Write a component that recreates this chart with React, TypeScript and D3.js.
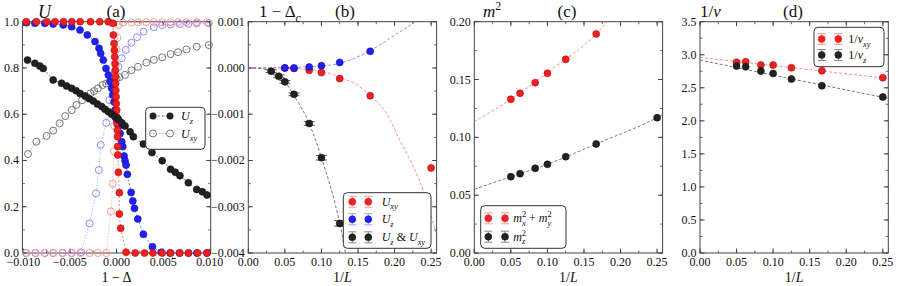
import React from "react";
import * as d3 from "d3";

const W = 915;
const H = 286;
const FONT = "Liberation Serif, DejaVu Serif, serif";
const FRAME = "#444";
const TOP = 21.7;
const BOTTOM = 253;
const PW = 188.3;
const LEFTS = [22.4, 248.3, 474.3, 700];

// ---- panel (a): U versus 1 - Delta ----
const aBlkX = [-0.00955, -0.00876, -0.00823, -0.00787, -0.0068, -0.0059, -0.00536, -0.00482, -0.00435, -0.00392, -0.00339, -0.00292, -0.00249, -0.00206, -0.00159, -0.00124, -0.00088, -0.00052, -0.00016, 0.0002, 0.00056, 0.00091, 0.00145, 0.0018, 0.00288, 0.0038, 0.0049, 0.0058, 0.0063, 0.0068, 0.0077, 0.0086, 0.0092, 0.0097];
const aBlkY = [0.834, 0.82, 0.808, 0.798, 0.748, 0.734, 0.722, 0.712, 0.702, 0.69, 0.679, 0.667, 0.657, 0.644, 0.633, 0.621, 0.611, 0.6, 0.589, 0.578, 0.563, 0.549, 0.524, 0.503, 0.471, 0.434, 0.399, 0.362, 0.349, 0.334, 0.304, 0.275, 0.265, 0.251];

const aGryX = [-0.0095, -0.0086, -0.0075, -0.0068, -0.0061, -0.0055, -0.0048, -0.0043, -0.0037, -0.0032, -0.0028, -0.0024, -0.002, -0.0015, -0.0011, -0.0006, -0.0003, 0, 0.0003, 0.0009, 0.0016, 0.0023, 0.0032, 0.004, 0.0049, 0.0058, 0.0066, 0.0075, 0.0086, 0.0099];
const aGryY = [0.428, 0.481, 0.506, 0.529, 0.561, 0.592, 0.618, 0.64, 0.661, 0.675, 0.69, 0.7, 0.712, 0.726, 0.733, 0.74, 0.748, 0.755, 0.76, 0.77, 0.79, 0.805, 0.823, 0.835, 0.846, 0.86, 0.868, 0.88, 0.892, 0.899];

const aBluX = [-0.00966, -0.00876, -0.00769, -0.0068, -0.00572, -0.00482, -0.00392, -0.00314, -0.00231, -0.00188, -0.0017, -0.00142, -0.00113, -0.00088, -0.0007, -0.00052, -0.00041, -0.00027, -0.00016, 0.00002, 0.0002, 0.00038, 0.00056, 0.00067, 0.00081, 0.00091, 0.00102, 0.00116, 0.00156, 0.00174, 0.00192, 0.00228, 0.00288, 0.00385, 0.00478, 0.00575, 0.00675, 0.00772, 0.00862, 0.0097];
const aBluY = [0.996, 0.993, 0.993, 0.99, 0.986, 0.978, 0.964, 0.943, 0.914, 0.885, 0.863, 0.834, 0.798, 0.77, 0.741, 0.712, 0.683, 0.654, 0.618, 0.575, 0.546, 0.517, 0.481, 0.46, 0.419, 0.399, 0.38, 0.34, 0.262, 0.225, 0.193, 0.147, 0.081, 0.027, 0.003, 0, 0, 0, 0, 0];

const aRedX = [-0.0097, -0.0086, -0.0075, -0.0066, -0.0057, -0.0048, -0.0039, -0.0028, -0.0018, -0.0009, -0.0004, -0.00034, -0.00027, -0.00023, -0.0002, -0.00016, -0.00014, -0.00012, -0.0001, -0.00008, -0.00005, -0.00003, 0.00002, 0.00003, 0.00005, 0.0001, 0.00011, 0.00012, 0.00014, 0.0002, 0.0003, 0.0003, 0.00045, 0.00102, 0.002, 0.003, 0.0039, 0.0049, 0.0058, 0.0068, 0.0077, 0.0087, 0.0097];
const aRedY = [1, 1, 1, 1, 1, 1, 1, 1, 1, 1, 0.993, 0.943, 0.906, 0.877, 0.848, 0.819, 0.79, 0.762, 0.733, 0.704, 0.675, 0.646, 0.618, 0.589, 0.56, 0.531, 0.503, 0.46, 0.424, 0.349, 0.261, 0.169, 0.107, 0.003, 0, 0, 0, 0, 0, 0, 0, 0, 0];

const aRoX = [-0.0097, -0.0087, -0.0077, -0.0068, -0.0058, -0.0048, -0.0039, -0.0029, -0.002, -0.0011, -0.0006, -0.0004, -0.0003, -0.00025, -0.0002, -0.00015, -0.0001, 0, 0.0001, 0.0002, 0.0007, 0.0016, 0.0023, 0.0032, 0.004, 0.0049, 0.0058, 0.0066, 0.0075, 0.0086, 0.0097];
const aRoY = [0, 0, 0, 0, 0, 0, 0, 0, 0, 0, 0.18, 0.3, 0.44, 0.55, 0.65, 0.74, 0.81, 0.88, 0.93, 0.986, 0.996, 0.997, 0.997, 0.998, 0.998, 0.998, 0.998, 0.998, 0.998, 0.998, 0.998];

const aBoX = [-0.0097, -0.0087, -0.0077, -0.0068, -0.0058, -0.0048, -0.0038, -0.0029, -0.0022, -0.0019, -0.0017, -0.0011, -0.00077, -0.00052, -0.00034, -0.00016, 0.0002, 0.00056, 0.001, 0.0016, 0.0022, 0.0029, 0.004, 0.0049, 0.0058, 0.0068, 0.0077, 0.0086, 0.0099];
const aBoY = [0, 0, 0, 0, 0, 0, 0.003, 0.128, 0.258, 0.359, 0.467, 0.563, 0.661, 0.719, 0.755, 0.784, 0.805, 0.842, 0.878, 0.909, 0.933, 0.957, 0.976, 0.985, 0.988, 0.99, 0.991, 0.993, 0.993];

// ---- panels (b)-(d): versus 1/L ----
const invL7 = [0.05, 0.0625, 0.0833, 0.1, 0.125, 0.1667, 0.25];
const invL6 = [0.05, 0.0625, 0.0833, 0.1, 0.125, 0.1667];
const invLBlk = [0.03125, 0.04167, 0.05, 0.0625, 0.0833, 0.1, 0.125];

const bRedY = [0.0, -0.00001, -0.00005, -0.0001, -0.00023, -0.0006, -0.00216];
const bBluY = [0.0, 0.0, 0.00002, 0.00005, 0.00012, 0.00036];
const bBlkY = [-0.00007, -0.00018, -0.0003, -0.00057, -0.0012, -0.00194, -0.00336];
const bBlkErr = [0.00003, 0.00003, 0.00003, 0.00003, 0.00004, 0.00005, 0.00006];
const bRedFitX = [0, 0.05, 0.1, 0.125, 0.15, 0.1667, 0.189, 0.2072, 0.239, 0.2575];
const bRedFitY = [0, -0.000004, -0.00007, -0.0002, -0.00038, -0.0006, -0.00098, -0.00156, -0.00264, -0.0036];
const bBluFitX = [0, 0.05, 0.0833, 0.1116, 0.1435, 0.165, 0.1936, 0.2277, 0.24];
const bBluFitY = [0, 0.000005, 0.00003, 0.00006, 0.0002, 0.00036, 0.00064, 0.001, 0.00115];
const bBlkFitX = [0, 0.02, 0.03125, 0.04167, 0.05, 0.0625, 0.0833, 0.1, 0.125, 0.133];
const bBlkFitY = [0, -0.00002, -0.00007, -0.00018, -0.0003, -0.0006, -0.0012, -0.00194, -0.00336, -0.004];

const cRedY = [0.1329, 0.1381, 0.1473, 0.1554, 0.1675, 0.1894];
const cBlkY = [0.066, 0.0686, 0.0732, 0.0767, 0.0833, 0.0943, 0.117];
const cRedFitX = [0, 0.05, 0.1, 0.1667, 0.182, 0.19];
const cRedFitY = [0.1136, 0.1329, 0.156, 0.1894, 0.2, 0.2055];
const cBlkFitX = [0, 0.05, 0.1, 0.1667, 0.25, 0.2575];
const cBlkFitY = [0.0551, 0.066, 0.0767, 0.0943, 0.117, 0.1195];

const dRedY = [2.885, 2.894, 2.844, 2.844, 2.803, 2.758, 2.652];
const dBlkY = [2.829, 2.818, 2.753, 2.718, 2.632, 2.531, 2.36];
const dRedFitX = [0, 0.2575];
const dRedFitY = [2.96, 2.64];
const dBlkFitX = [0, 0.125, 0.2575];
const dBlkFitY = [2.92, 2.635, 2.34];

// tick labels
const aXTicks = [-0.01, -0.005, 0, 0.005, 0.01];
const aYTicks = [0, 0.2, 0.4, 0.6, 0.8, 1.0];
const lXTicks = [0, 0.05, 0.1, 0.15, 0.2, 0.25];
const bYTicks = [-0.004, -0.003, -0.002, -0.001, 0, 0.001];
const cYTicks = [0, 0.05, 0.1, 0.15, 0.2];
const dYTicks = [0, 0.5, 1, 1.5, 2, 2.5, 3, 3.5];

const RED = "#f02020";
const BLUE = "#2020f0";
const BLK = "#222";

const zip = (xs: number[], ys: number[]) => xs.map((v, i) => [v, ys[i]] as [number, number]);
const minus = (s: string) => s.replace(/^-/, "\u2212");

type Part = { t: string; i?: boolean; s?: "sub" | "sup"; dx?: number };

function MText({ x, y, parts, size = 12, anchor = "start" }: any) {
  let cur = 0;
  return (
    <text x={x} y={y} fontSize={size} textAnchor={anchor} fill="#111" style={{ whiteSpace: "pre", fontFamily: FONT }}>
      {parts.map((p: Part, k: number) => {
        const target = p.s === "sub" ? size * 0.3 : p.s === "sup" ? -size * 0.42 : 0;
        const dy = target - cur;
        cur = target;
        return (
          <tspan key={k} dy={dy} dx={p.dx ?? 0} fontStyle={p.i ? "italic" : "normal"} fontSize={p.s ? size * 0.7 : size}>
            {p.t}
          </tspan>
        );
      })}
    </text>
  );
}

function Frame({ xs, ys, xMajor, xMinor, yMajor, yMinor, xFmt, yFmt }: any) {
  const [x0, x1] = xs.range();
  return (
    <g>
      <rect x={x0} y={TOP} width={x1 - x0} height={BOTTOM - TOP} fill="none" stroke={FRAME} strokeWidth={1} />
      {xMinor.map((v: number, i: number) => (
        <g key={"xm" + i} stroke={FRAME} strokeWidth={0.8}>
          <line x1={xs(v)} x2={xs(v)} y1={BOTTOM} y2={BOTTOM - 2.5} />
          <line x1={xs(v)} x2={xs(v)} y1={TOP} y2={TOP + 2.5} />
        </g>
      ))}
      {yMinor.map((v: number, i: number) => (
        <g key={"ym" + i} stroke={FRAME} strokeWidth={0.8}>
          <line x1={x0} x2={x0 + 2.5} y1={ys(v)} y2={ys(v)} />
          <line x1={x1} x2={x1 - 2.5} y1={ys(v)} y2={ys(v)} />
        </g>
      ))}
      {xMajor.map((v: number, i: number) => (
        <g key={"x" + i}>
          <line x1={xs(v)} x2={xs(v)} y1={BOTTOM} y2={BOTTOM - 4.5} stroke={FRAME} />
          <line x1={xs(v)} x2={xs(v)} y1={TOP} y2={TOP + 4.5} stroke={FRAME} />
          <text x={xs(v)} y={BOTTOM + 13} textAnchor="middle" fontSize={12} fill="#111" style={{ fontFamily: FONT }}>
            {minus(xFmt(v))}
          </text>
        </g>
      ))}
      {yMajor.map((v: number, i: number) => (
        <g key={"y" + i}>
          <line x1={x0} x2={x0 + 4.5} y1={ys(v)} y2={ys(v)} stroke={FRAME} />
          <line x1={x1} x2={x1 - 4.5} y1={ys(v)} y2={ys(v)} stroke={FRAME} />
          <text x={x0 - 3.5} y={ys(v) + 4} textAnchor="end" fontSize={12} fill="#111" style={{ fontFamily: FONT }}>
            {minus(yFmt(v))}
          </text>
        </g>
      ))}
    </g>
  );
}

function Series({ pts, xs, ys, clip, line, dash, lw = 0.8, fill, stroke, r = 3.5, curve = d3.curveLinear, markers = true }: any) {
  const gen = d3.line<[number, number]>().x((d) => xs(d[0])).y((d) => ys(d[1])).curve(curve);
  return (
    <g>
      {line && <path d={gen(pts) || ""} fill="none" stroke={line} strokeWidth={lw} strokeDasharray={dash} clipPath={`url(#${clip})`} />}
      {markers &&
        pts.map((d: [number, number], i: number) => (
          <circle key={i} cx={xs(d[0])} cy={ys(d[1])} r={r} fill={fill || "none"} stroke={stroke || "none"} strokeWidth={fill ? 0.6 : 0.9} />
        ))}
    </g>
  );
}

function ErrMark({ x, y, color, errColor, h = 5.5 }: any) {
  return (
    <g>
      <line x1={x} x2={x} y1={y - h} y2={y + h} stroke={errColor} strokeWidth={1} />
      <line x1={x - 4} x2={x + 4} y1={y - h} y2={y - h} stroke={errColor} strokeWidth={1} />
      <line x1={x - 4} x2={x + 4} y1={y + h} y2={y + h} stroke={errColor} strokeWidth={1} />
      <circle cx={x} cy={y} r={3.5} fill={color} stroke={color} strokeWidth={0.6} />
    </g>
  );
}

function Box({ x, y, w, h }: any) {
  return <rect x={x} y={y} width={w} height={h} rx={4} fill="white" fillOpacity={0.9} stroke="#333" strokeWidth={1} />;
}

export default function App() {
  const xsA = d3.scaleLinear().domain([-0.0101, 0.0101]).range([LEFTS[0], LEFTS[0] + PW]);
  const ysA = d3.scaleLinear().domain([0, 1]).range([BOTTOM, TOP]);
  const xsL = (i: number) => d3.scaleLinear().domain([0, 0.2575]).range([LEFTS[i], LEFTS[i] + PW]);
  const xsB = xsL(1);
  const xsC = xsL(2);
  const xsD = xsL(3);
  const ysB = d3.scaleLinear().domain([-0.004, 0.001]).range([BOTTOM, TOP]);
  const ysC = d3.scaleLinear().domain([0, 0.2]).range([BOTTOM, TOP]);
  const ysD = d3.scaleLinear().domain([0, 3.5]).range([BOTTOM, TOP]);

  const lMinor = d3.range(0, 0.2576, 0.025);
  const f2 = d3.format(".2f");

  const mono = d3.curveMonotoneX;

  return (
    <svg width={W} height={H} style={{ position: "absolute", left: 0, top: 0, background: "#fff", fontFamily: FONT }}>
      <defs>
        {LEFTS.map((l, i) => (
          <clipPath id={`clip${i}`} key={i}>
            <rect x={l} y={TOP} width={PW} height={BOTTOM - TOP} />
          </clipPath>
        ))}
      </defs>

      <Frame xs={xsA} ys={ysA} xMajor={aXTicks} xMinor={d3.range(-0.01, 0.01001, 0.0025)} yMajor={aYTicks} yMinor={d3.range(0, 1.001, 0.1)} xFmt={d3.format(".3f")} yFmt={d3.format(".1f")} />
      <Frame xs={xsB} ys={ysB} xMajor={lXTicks} xMinor={lMinor} yMajor={bYTicks} yMinor={d3.range(-0.004, 0.00101, 0.0005)} xFmt={f2} yFmt={d3.format(".3f")} />
      <Frame xs={xsC} ys={ysC} xMajor={lXTicks} xMinor={lMinor} yMajor={cYTicks} yMinor={d3.range(0, 0.2001, 0.025)} xFmt={f2} yFmt={f2} />
      <Frame xs={xsD} ys={ysD} xMajor={lXTicks} xMinor={lMinor} yMajor={dYTicks} yMinor={d3.range(0, 3.501, 0.25)} xFmt={f2} yFmt={d3.format(".1f")} />

      {/* panel (a) */}
      <Series pts={zip(aGryX, aGryY)} xs={xsA} ys={ysA} clip="clip0" line="#888" dash="1.5,1.5" lw={0.7} stroke="#666" />
      <Series pts={zip(aBoX, aBoY)} xs={xsA} ys={ysA} clip="clip0" line="#9a9aff" dash="1.5,1.5" lw={0.7} stroke="#8080ff" />
      <Series pts={zip(aRoX, aRoY)} xs={xsA} ys={ysA} clip="clip0" line="#ff9a9a" dash="1.5,1.5" lw={0.7} stroke="#ff8a8a" />
      <Series pts={zip(aBluX, aBluY)} xs={xsA} ys={ysA} clip="clip0" line="#6060ff" dash="2,2" fill={BLUE} stroke="#1010b0" />
      <Series pts={zip(aRedX, aRedY)} xs={xsA} ys={ysA} clip="clip0" line="#ff6060" dash="2,2" fill={RED} stroke="#b01010" />
      <Series pts={zip(aBlkX, aBlkY)} xs={xsA} ys={ysA} clip="clip0" line="#555" dash="2.5,2" fill={BLK} stroke="#111" />

      {/* panel (b) */}
      <Series pts={zip(bRedFitX, bRedFitY)} xs={xsB} ys={ysB} clip="clip1" line="#ff7070" dash="3,2" curve={mono} markers={false} />
      <Series pts={zip(bBluFitX, bBluFitY)} xs={xsB} ys={ysB} clip="clip1" line="#7070ff" dash="3,2" curve={mono} markers={false} />
      <Series pts={zip(bBlkFitX, bBlkFitY)} xs={xsB} ys={ysB} clip="clip1" line="#555" dash="3,2" curve={mono} markers={false} />
      <Series pts={zip(invL7, bRedY)} xs={xsB} ys={ysB} clip="clip1" fill={RED} stroke="#b01010" />
      <Series pts={zip(invL6, bBluY)} xs={xsB} ys={ysB} clip="clip1" fill={BLUE} stroke="#1010b0" />
      <g stroke="#555" strokeWidth={1}>
        {invLBlk.map((v, i) => {
          const cx = xsB(v);
          const t = ysB(bBlkY[i] + bBlkErr[i]);
          const b = ysB(bBlkY[i] - bBlkErr[i]);
          return (
            <g key={i}>
              <line x1={cx} x2={cx} y1={t} y2={b} />
              <line x1={cx - 5.5} x2={cx + 5.5} y1={t} y2={t} />
              <line x1={cx - 5.5} x2={cx + 5.5} y1={b} y2={b} />
            </g>
          );
        })}
      </g>
      <Series pts={zip(invLBlk, bBlkY)} xs={xsB} ys={ysB} clip="clip1" fill={BLK} stroke="#111" />

      {/* panel (c) */}
      <Series pts={zip(cRedFitX, cRedFitY)} xs={xsC} ys={ysC} clip="clip2" line="#ff7070" dash="3,2" curve={mono} markers={false} />
      <Series pts={zip(cBlkFitX, cBlkFitY)} xs={xsC} ys={ysC} clip="clip2" line="#555" dash="3,2" curve={mono} markers={false} />
      <Series pts={zip(invL6, cRedY)} xs={xsC} ys={ysC} clip="clip2" fill={RED} stroke="#b01010" />
      <Series pts={zip(invL7, cBlkY)} xs={xsC} ys={ysC} clip="clip2" fill={BLK} stroke="#111" />

      {/* panel (d) */}
      <Series pts={zip(dRedFitX, dRedFitY)} xs={xsD} ys={ysD} clip="clip3" line="#ff7070" dash="3,2" markers={false} />
      <Series pts={zip(dBlkFitX, dBlkFitY)} xs={xsD} ys={ysD} clip="clip3" line="#555" dash="3,2" curve={mono} markers={false} />
      <Series pts={zip(invL7, dRedY)} xs={xsD} ys={ysD} clip="clip3" fill={RED} stroke="#b01010" />
      <Series pts={zip(invL7, dBlkY)} xs={xsD} ys={ysD} clip="clip3" fill={BLK} stroke="#111" />

      {/* legend (a) */}
      <Box x={145.7} y={107.3} w={59.3} h={42} />
      <line x1={153} x2={170} y1={116} y2={116} stroke="#555" strokeWidth={0.8} strokeDasharray="2.5,2" />
      <circle cx={153} cy={116} r={3.5} fill={BLK} />
      <circle cx={170} cy={116} r={3.5} fill={BLK} />
      <MText x={181} y={120} parts={[{ t: "U", i: true }, { t: "z", i: true, s: "sub" }]} />
      <line x1={153} x2={170} y1={133.5} y2={133.5} stroke="#888" strokeWidth={0.7} strokeDasharray="1.5,1.5" />
      <circle cx={153} cy={133.5} r={3.5} fill="none" stroke="#666" strokeWidth={0.9} />
      <circle cx={170} cy={133.5} r={3.5} fill="none" stroke="#666" strokeWidth={0.9} />
      <MText x={181} y={137.5} parts={[{ t: "U", i: true }, { t: "xy", i: true, s: "sub" }]} />

      {/* legend (b) */}
      <Box x={343.3} y={192.7} w={87.7} h={55.6} />
      {[352.3, 368.3].map((x) => (
        <g key={x}>
          <ErrMark x={x} y={201.7} color={RED} errColor="#ff9a9a" />
          <ErrMark x={x} y={219.3} color={BLUE} errColor="#9a9aff" />
          <ErrMark x={x} y={237.3} color={BLK} errColor="#888" />
        </g>
      ))}
      <MText x={381.7} y={205.7} parts={[{ t: "U", i: true }, { t: "xy", i: true, s: "sub" }]} />
      <MText x={381.7} y={223.3} parts={[{ t: "U", i: true }, { t: "z", i: true, s: "sub" }]} />
      <MText x={381.7} y={241.3} parts={[{ t: "U", i: true }, { t: "z", i: true, s: "sub" }, { t: " & " }, { t: "U", i: true }, { t: "xy", i: true, s: "sub" }]} />

      {/* legend (c) */}
      <Box x={480.7} y={205.7} w={85.3} h={42.6} />
      {[488.3, 505].map((x) => (
        <g key={x}>
          <ErrMark x={x} y={218.3} color={RED} errColor="#ff9a9a" />
          <ErrMark x={x} y={236.7} color={BLK} errColor="#888" />
        </g>
      ))}
      <MText
        x={513.3}
        y={222.3}
        parts={[
          { t: "m", i: true },
          { t: "x", i: true, s: "sub" },
          { t: "2", s: "sup", dx: -3.8 },
          { t: " + " },
          { t: "m", i: true },
          { t: "y", i: true, s: "sub" },
          { t: "2", s: "sup", dx: -3.8 },
        ]}
      />
      <MText x={513.3} y={240.7} parts={[{ t: "m", i: true }, { t: "z", i: true, s: "sub" }, { t: "2", s: "sup", dx: -3.5 }]} />

      {/* legend (d) */}
      <Box x={814} y={27.3} w={70} h={39.4} />
      {[821.7, 838.3].map((x) => (
        <g key={x}>
          <ErrMark x={x} y={39} color={RED} errColor="#ff9a9a" />
          <ErrMark x={x} y={55} color={BLK} errColor="#888" />
        </g>
      ))}
      <MText x={848.3} y={43} parts={[{ t: "1/" }, { t: "ν", i: true }, { t: "xy", i: true, s: "sub" }]} />
      <MText x={848.3} y={59} parts={[{ t: "1/" }, { t: "ν", i: true }, { t: "z", i: true, s: "sub" }]} />

      {/* titles */}
      <MText x={38} y={17.5} size={18} parts={[{ t: "U", i: true }]} />
      <MText x={116} y={17} size={17} anchor="middle" parts={[{ t: "(a)" }]} />
      <MText x={259} y={17} size={17} parts={[{ t: "1 − Δ" }, { t: "c", i: true, s: "sub" }]} />
      <MText x={345} y={17} size={17} anchor="middle" parts={[{ t: "(b)" }]} />
      <MText x={483} y={17} size={17} parts={[{ t: "m", i: true }, { t: "2", s: "sup" }]} />
      <MText x={567} y={17} size={17} anchor="middle" parts={[{ t: "(c)" }]} />
      <MText x={700} y={17} size={17} parts={[{ t: "1/" }, { t: "ν", i: true }]} />
      <MText x={793} y={17} size={17} anchor="middle" parts={[{ t: "(d)" }]} />

      {/* axis labels */}
      <MText x={LEFTS[0] + PW / 2} y={282} size={14} anchor="middle" parts={[{ t: "1 − Δ" }]} />
      {[1, 2, 3].map((i) => (
        <MText key={i} x={LEFTS[i] + PW / 2} y={282} size={14} anchor="middle" parts={[{ t: "1/" }, { t: "L", i: true }]} />
      ))}
    </svg>
  );
}
